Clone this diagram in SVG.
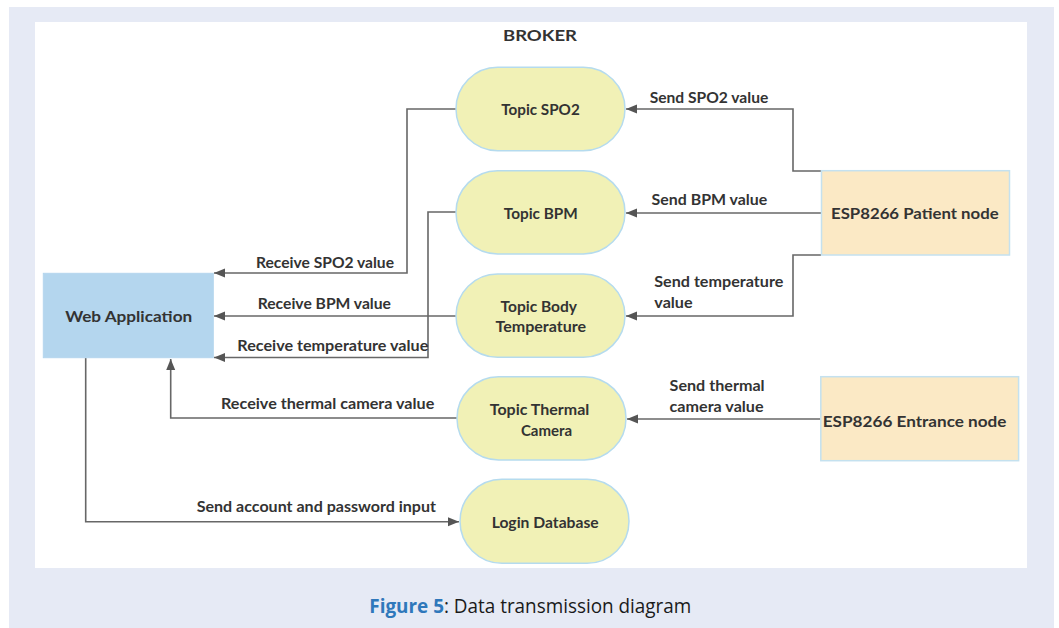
<svg xmlns="http://www.w3.org/2000/svg" width="1059" height="628" viewBox="0 0 1059 628">
<defs>
<style>
.pill{fill:#f1f1b6;stroke:#b5dbee;stroke-width:1.5}
.esp{fill:#fbe9c5;stroke:#c4e1ef;stroke-width:1.5}
.web{fill:#b4d6ee;stroke:#b4d6ee;stroke-width:1}
.t{font-family:Lato,"Open Sans","Liberation Sans",sans-serif;font-weight:700;font-size:15px;fill:#333}
.m{text-anchor:middle}
.c{fill:none;stroke:#676767;stroke-width:1.6}
.cap{font-family:"Open Sans","Noto Sans","Liberation Sans",sans-serif;font-size:20px;fill:#1a1a1a}
</style>
<marker id="ah" markerUnits="userSpaceOnUse" markerWidth="12" markerHeight="12" viewBox="0 0 12 12" refX="11" refY="6" orient="auto">
<path d="M0,1.5 L11,6 L0,10.5 Z" fill="#555"/>
</marker>
</defs>
<rect x="0" y="0" width="1059" height="628" fill="#ffffff"/>
<rect x="9" y="7" width="1045" height="621" fill="#e6eaf5"/>
<rect x="35" y="22" width="992" height="546" fill="#ffffff"/>
<text class="t m" x="540" y="41" font-size="16" textLength="74" lengthAdjust="spacingAndGlyphs">BROKER</text>

<g id="connectors">
<path class="c" d="M821,171 H793 V109 H626" marker-end="url(#ah)"/>
<path class="c" d="M821,213 H626" marker-end="url(#ah)"/>
<path class="c" d="M821,255 H793 V316 H626" marker-end="url(#ah)"/>
<path class="c" d="M821,419 H627" marker-end="url(#ah)"/>
<path class="c" d="M456,109 H407 V273 H214" marker-end="url(#ah)"/>
<path class="c" d="M456,212 H428 V357.5 H214" marker-end="url(#ah)"/>
<path class="c" d="M456,316 H214" marker-end="url(#ah)"/>
<path class="c" d="M457,418 H170.7 V359" marker-end="url(#ah)"/>
<path class="c" d="M85.7,358 V521.7 H459" marker-end="url(#ah)"/>
<text class="t" x="649.7" y="102.5" textLength="118.6" lengthAdjust="spacingAndGlyphs">Send SPO2 value</text>
<text class="t" x="651.6" y="205" textLength="115.6" lengthAdjust="spacingAndGlyphs">Send BPM value</text>
<text class="t" x="654.3" y="287" textLength="129" lengthAdjust="spacingAndGlyphs">Send temperature</text>
<text class="t" x="654.3" y="308" textLength="38.3" lengthAdjust="spacingAndGlyphs">value</text>
<text class="t" x="669.6" y="391" textLength="95" lengthAdjust="spacingAndGlyphs">Send thermal</text>
<text class="t" x="669.6" y="412" textLength="94" lengthAdjust="spacingAndGlyphs">camera value</text>
<text class="t" x="256" y="267.5" textLength="138" lengthAdjust="spacingAndGlyphs">Receive SPO2 value</text>
<text class="t" x="257.7" y="308.5" textLength="133.3" lengthAdjust="spacingAndGlyphs">Receive BPM value</text>
<text class="t" x="237.3" y="351" textLength="191" lengthAdjust="spacingAndGlyphs">Receive temperature value</text>
<text class="t" x="221" y="409" textLength="213.3" lengthAdjust="spacingAndGlyphs">Receive thermal camera value</text>
<text class="t" x="196.7" y="512" textLength="239.3" lengthAdjust="spacingAndGlyphs">Send account and password input</text>
</g>

<g id="web-application">
<rect class="web" x="43.3" y="273.3" width="170" height="84.4"/>
<text class="t m" x="128.7" y="322" textLength="127" lengthAdjust="spacingAndGlyphs">Web Application</text>
</g>
<g id="topic-spo2">
<rect class="pill" x="456" y="67.3" width="169" height="83.4" rx="41.7"/>
<text class="t m" x="540.5" y="115" textLength="78.5" lengthAdjust="spacingAndGlyphs">Topic SPO2</text>
</g>
<g id="topic-bpm">
<rect class="pill" x="456" y="170.7" width="169" height="83.3" rx="41.6"/>
<text class="t m" x="540.8" y="218.5" textLength="74" lengthAdjust="spacingAndGlyphs">Topic BPM</text>
</g>
<g id="topic-body-temperature">
<rect class="pill" x="456" y="274" width="169" height="83.3" rx="41.6"/>
<text class="t m" x="538.8" y="311.5" textLength="76.5" lengthAdjust="spacingAndGlyphs">Topic Body</text>
<text class="t m" x="540.8" y="332" textLength="90.7" lengthAdjust="spacingAndGlyphs">Temperature</text>
</g>
<g id="topic-thermal-camera">
<rect class="pill" x="457" y="376.7" width="169" height="83.3" rx="41.6"/>
<text class="t m" x="539.5" y="414.5" textLength="99.5" lengthAdjust="spacingAndGlyphs">Topic Thermal</text>
<text class="t m" x="546.5" y="436">Camera</text>
</g>
<g id="login-database">
<rect class="pill" x="460" y="479.3" width="169" height="84" rx="42"/>
<text class="t m" x="545.2" y="528" textLength="107" lengthAdjust="spacingAndGlyphs">Login Database</text>
</g>
<g id="esp8266-patient-node">
<rect class="esp" x="821.5" y="170.7" width="188" height="84.3"/>
<text class="t m" x="914.8" y="219" textLength="167.6" lengthAdjust="spacingAndGlyphs">ESP8266 Patient node</text>
</g>
<g id="esp8266-entrance-node">
<rect class="esp" x="820.8" y="376.7" width="197.8" height="84"/>
<text class="t m" x="914.6" y="427" textLength="183.7" lengthAdjust="spacingAndGlyphs">ESP8266 Entrance node</text>
</g>

<text class="cap" x="369.3" y="612.7" textLength="322" lengthAdjust="spacingAndGlyphs"><tspan font-weight="700" fill="#2f78bb">Figure 5</tspan>: Data transmission diagram</text>
</svg>
